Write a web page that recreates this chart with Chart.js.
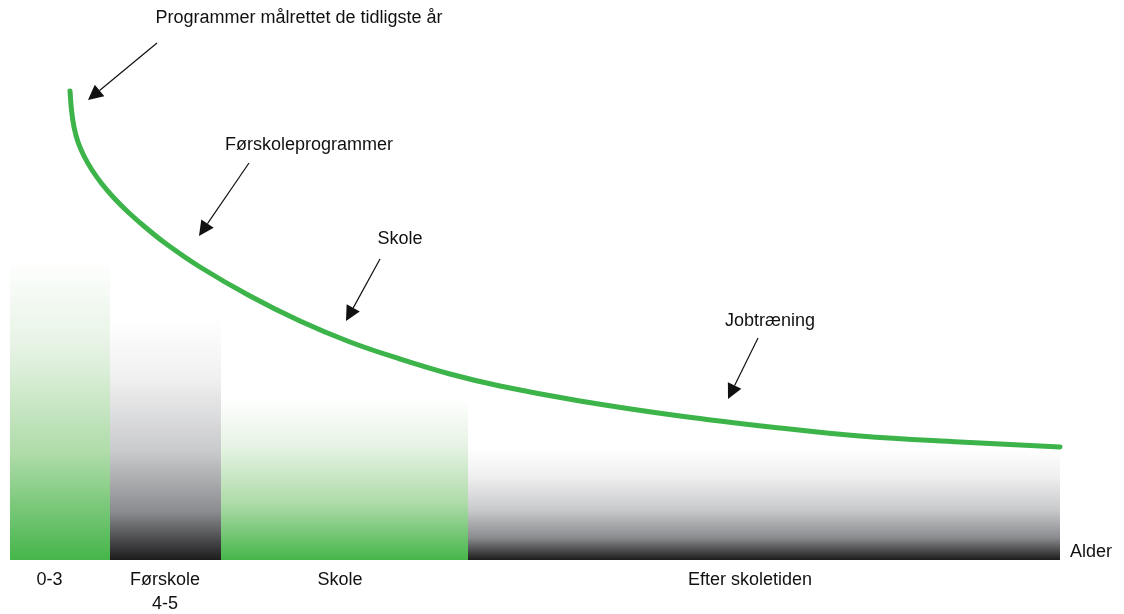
<!DOCTYPE html>
<html><head><meta charset="utf-8">
<script src="https://cdn.jsdelivr.net/npm/chart.js@4/dist/chart.umd.min.js"></script>
<style>html,body{margin:0;padding:0;background:#fff}#wrap{width:1124px;height:614px;position:relative}</style>
</head><body><div id="wrap"><canvas id="c"></canvas></div>
<script>
// ---- data ----
const stageNames = ['0-3', ['Førskole', '4-5'], 'Skole', 'Efter skoletiden'];
const stageStart = [0, 10, 21.1, 45.8];
const stageEnd = [10, 21.1, 45.8, 105];
const stageHeight = [60.4, 48.4, 32.4, 22.4];
const stageTone = ['green', 'gray', 'green', 'gray'];
const labelX = [3.95, 15.5, 33, 74];

const curveX = [6, 6.15, 6.4, 6.8, 7.4, 8.2, 9.2, 10.4, 11.8, 13.5, 15.5, 19, 24, 29, 34, 39, 44, 49, 57, 67, 77, 85, 95, 105];
const curveY = [93.8, 90, 86.6, 83.6, 80.8, 78, 75.2, 72.4, 69.6, 66.6, 63.4, 58.6, 52.8, 47.8, 43.6, 40.2, 37.2, 34.8, 31.8, 28.8, 26.4, 24.8, 23.6, 22.6];

const noteTexts = ['Programmer målrettet de tidligste år', 'Førskoleprogrammer', 'Skole', 'Jobtræning'];
const noteTextX = [28.9, 29.9, 39, 76];
const noteTextY = [108.4, 83, 64.2, 47.8];
const noteFromX = [14.7, 23.9, 37, 74.8];
const noteFromY = [103.4, 79.4, 60.2, 44.4];
const noteTipX = [7.8, 18.9, 33.6, 71.8];
const noteTipY = [92, 64.8, 47.8, 32.2];
const axisTitle = 'Alder';

const FONT = "'Liberation Sans', Arial, sans-serif";
const toneStops = {
  green: [[0, '#ffffff'], [0.3, '#e6f3e4'], [0.65, '#aedba8'], [1, '#45b54a']],
  gray: [[0, '#ffffff'], [0.25, '#f0f0f1'], [0.55, '#c9cacc'], [0.8, '#8b8c8f'], [1, '#1c1c1d']]
};

function stageFill(chart, i) {
  const { ctx, chartArea, scales } = chart;
  if (!chartArea) return 'rgba(0,0,0,0)';
  const top = scales.y.getPixelForValue(stageHeight[i]);
  const bot = scales.y.getPixelForValue(0);
  const g = ctx.createLinearGradient(0, top, 0, bot);
  toneStops[stageTone[i]].forEach(s => g.addColorStop(s[0], s[1]));
  return g;
}

const stageSets = stageNames.map((n, i) => ({
  type: 'line',
  label: Array.isArray(n) ? n.join(' ') : n,
  data: [{ x: stageStart[i], y: stageHeight[i] }, { x: stageEnd[i], y: stageHeight[i] }],
  fill: 'origin',
  backgroundColor: c => stageFill(c.chart, i),
  borderColor: 'rgba(0,0,0,0)',
  borderWidth: 0,
  pointRadius: 0,
  tension: 0,
  order: 2
}));

const curveSet = {
  type: 'line',
  label: 'Afkast',
  data: curveX.map((x, i) => ({ x, y: curveY[i] })),
  borderColor: '#3cb44a',
  borderWidth: 5,
  borderCapStyle: 'round',
  borderJoinStyle: 'round',
  tension: 0.4,
  pointRadius: 0,
  fill: false,
  clip: false,
  order: 0
};

const notesPlugin = {
  id: 'notes',
  afterDatasetsDraw(chart) {
    const { ctx, scales } = chart;
    const X = v => scales.x.getPixelForValue(v);
    const Y = v => scales.y.getPixelForValue(v);
    ctx.save();
    ctx.fillStyle = '#111';
    ctx.strokeStyle = '#111';
    ctx.font = '18px ' + FONT;
    ctx.textAlign = 'center';
    ctx.textBaseline = 'middle';
    noteTexts.forEach((t, i) => {
      ctx.fillText(t, X(noteTextX[i]), Y(noteTextY[i]));
      const x0 = X(noteFromX[i]), y0 = Y(noteFromY[i]);
      const x1 = X(noteTipX[i]), y1 = Y(noteTipY[i]);
      const dx = x1 - x0, dy = y1 - y0, L = Math.hypot(dx, dy);
      const ux = dx / L, uy = dy / L;
      const hl = 15, hw = 7.5;
      const bx = x1 - ux * hl, by = y1 - uy * hl;
      ctx.lineWidth = 1.2;
      ctx.beginPath();
      ctx.moveTo(x0, y0);
      ctx.lineTo(bx, by);
      ctx.stroke();
      ctx.beginPath();
      ctx.moveTo(x1, y1);
      ctx.lineTo(bx - uy * hw, by + ux * hw);
      ctx.lineTo(bx + uy * hw, by - ux * hw);
      ctx.closePath();
      ctx.fill();
    });
    ctx.textAlign = 'left';
    ctx.fillText(axisTitle, X(106), Y(1.6));
    ctx.restore();
  }
};

new Chart(document.getElementById('c'), {
  type: 'line',
  data: { datasets: [curveSet, ...stageSets] },
  options: {
    responsive: true,
    maintainAspectRatio: false,
    animation: false,
    layout: { padding: { left: 10, right: 64, top: 60, bottom: 0 } },
    plugins: { legend: { display: false }, tooltip: { enabled: false } },
    scales: {
      x: {
        type: 'linear',
        min: 0,
        max: 105,
        grid: { display: false, drawTicks: false },
        border: { display: false },
        afterBuildTicks: s => { s.ticks = labelX.map(v => ({ value: v })); },
        afterFit: s => { s.height = 54; },
        ticks: {
          autoSkip: false,
          maxRotation: 0,
          padding: 8,
          color: '#111',
          font: { family: FONT, size: 18, lineHeight: 24 / 18 },
          callback: (v, i) => stageNames[i]
        }
      },
      y: { display: false, min: 0, max: 100 }
    }
  },
  plugins: [notesPlugin]
});
</script></body></html>
